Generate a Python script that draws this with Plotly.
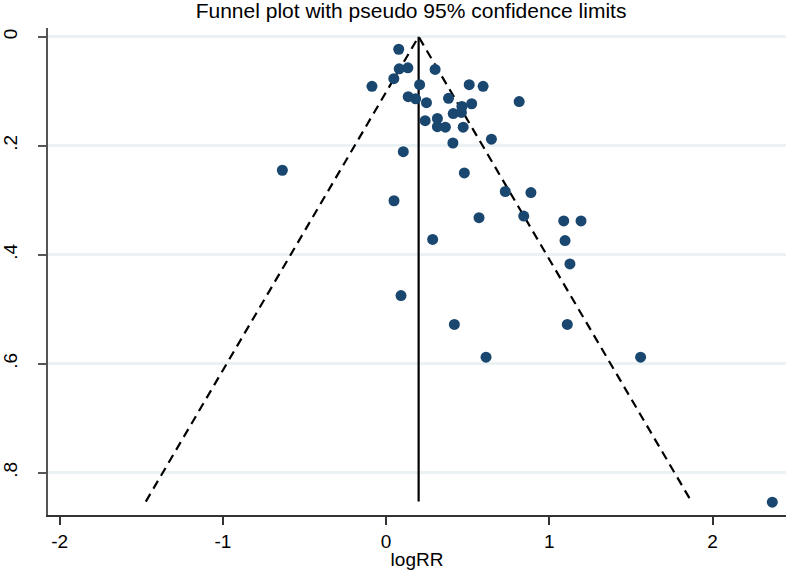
import plotly.graph_objects as go

# Study estimates (log risk ratio) and their standard errors
logRR = [0.077, 0.080, 0.133, 0.047, -0.087, 0.300, 0.205, 0.509, 0.594, 0.135,
         0.181, 0.247, 0.382, 0.464, 0.524, 0.815, 0.411, 0.461, 0.239, 0.314,
         0.314, 0.363, 0.472, 0.645, 0.409, 0.105, 0.479, 0.730, 0.887, 0.048,
         0.569, 0.843, 1.088, 1.194, 0.285, 1.096, 1.126, 0.091, -0.636, 0.418,
         1.110, 0.612, 1.559, 2.366]
se = [0.023, 0.059, 0.057, 0.077, 0.091, 0.060, 0.088, 0.088, 0.091, 0.110,
      0.114, 0.121, 0.113, 0.128, 0.123, 0.119, 0.141, 0.139, 0.154, 0.150,
      0.165, 0.166, 0.166, 0.188, 0.195, 0.211, 0.250, 0.284, 0.286, 0.301,
      0.332, 0.329, 0.338, 0.338, 0.372, 0.374, 0.417, 0.475, 0.245, 0.528,
      0.528, 0.588, 0.588, 0.854]

pooled = 0.199
se_max = 0.853
z = 1.96

x_ticks = [-2, -1, 0, 1, 2]
x_ticklabels = ["-2", "-1", "0", "1", "2"]
y_ticks = [0, 0.2, 0.4, 0.6, 0.8]
y_ticklabels = ["0", ".2", ".4", ".6", ".8"]

font_family = "Liberation Sans, Arial, Helvetica, sans-serif"

fig = go.Figure()

# pseudo 95% confidence limits
fig.add_trace(go.Scatter(
    x=[pooled - z * se_max, pooled, pooled + z * se_max],
    y=[se_max, 0, se_max],
    mode="lines",
    line=dict(color="black", width=2.2, dash="9px,6px"),
    hoverinfo="skip", showlegend=False))

# pooled estimate line
fig.add_trace(go.Scatter(
    x=[pooled, pooled], y=[0, se_max],
    mode="lines", line=dict(color="black", width=2.2),
    hoverinfo="skip", showlegend=False))

fig.add_trace(go.Scatter(
    x=logRR, y=se, mode="markers",
    marker=dict(color="#1a476f", size=11, line=dict(width=0)),
    showlegend=False))

fig.update_layout(
    width=786, height=570,
    margin=dict(l=48, r=0, t=28, b=55, autoexpand=False),
    paper_bgcolor="white", plot_bgcolor="white",
    font=dict(family=font_family, size=19, color="black"),
    title=dict(text="Funnel plot with pseudo 95% confidence limits",
               x=0.523, xanchor="center", xref="container",
               y=0.994, yanchor="top", yref="container",
               font=dict(size=21, color="black")),
    xaxis=dict(range=[-2.072, 2.45], tickvals=x_ticks, ticktext=x_ticklabels,
               ticks="outside", ticklen=8, tickcolor="#333", tickwidth=1.5,
               showline=True, linecolor="#333", linewidth=1.5,
               showgrid=False, zeroline=False, automargin=False,
               title=dict(text="logRR", standoff=2, font=dict(size=19)),
               tickfont=dict(size=19)),
    yaxis=dict(range=[0.8776, -0.016], tickvals=y_ticks, ticktext=y_ticklabels,
               ticks="outside", ticklen=8, tickcolor="#555", tickwidth=1.5,
               tickangle=-90, ticklabelstandoff=14,
               showline=True, linecolor="#555", linewidth=1.5,
               showgrid=True, gridcolor="#eaf2f3", gridwidth=2.5,
               zeroline=False, automargin=False, tickfont=dict(size=19)),
)

fig.write_html("out.html", config={"displayModeBar": False},
               post_script="document.body.style.margin='0px';")
